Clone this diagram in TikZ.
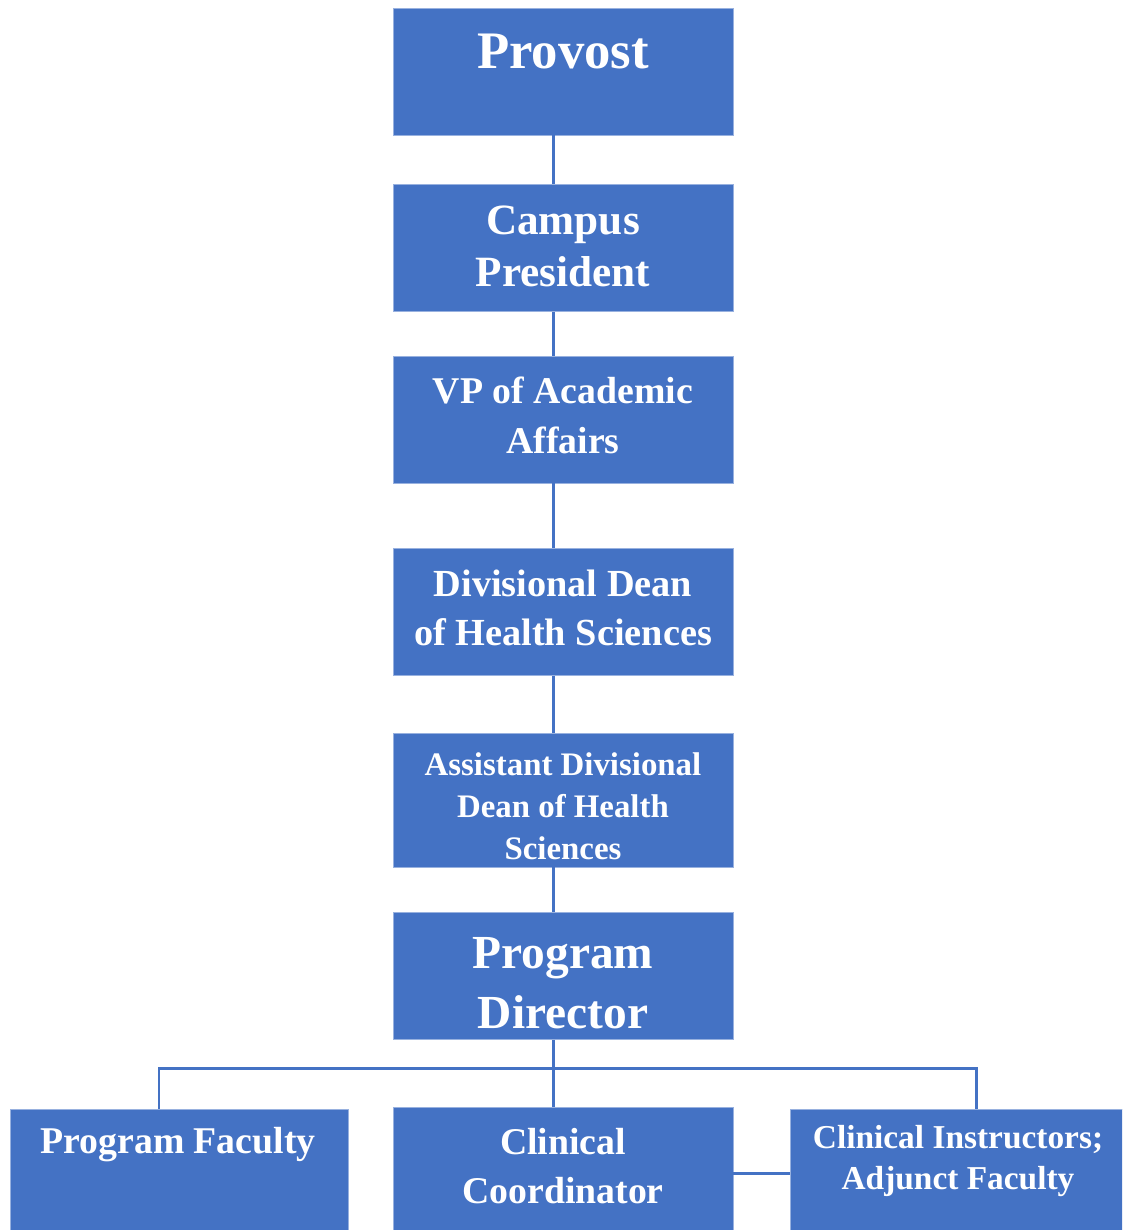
\documentclass[tikz,border=0pt]{standalone}
\usepackage{fontspec}
\setmainfont{Liberation Serif}
\definecolor{orgblue}{HTML}{4472C4}
\begin{document}
\begin{tikzpicture}[x=0.02cm,y=-0.02cm,
  box/.style={rectangle,fill=orgblue,draw=orgblue!55!white,line width=0.4pt,minimum width=6.8cm,minimum height=2.54cm,inner sep=0pt},
  txt/.style 2 args={text=white,font=\bfseries\fontsize{#1}{#2}\selectfont,align=center,inner sep=0pt},
  link/.style={draw=orgblue,line width=1.7pt}]
\useasboundingbox (0,0) rectangle (1122,1230);
\clip (0,0) rectangle (1122,1230);
% boxes of the chain
\node[box] (provost) at (563,71.5) {};
\node[box] (campus) at (563,248) {};
\node[box] (vp) at (563,419.5) {};
\node[box] (dean) at (563,612) {};
\node[box,minimum height=2.68cm] (asst) at (563,800) {};
\node[box] (director) at (563,976) {};
% bottom row
\node[box,minimum width=6.76cm,minimum height=2.64cm] (faculty) at (179,1175) {};
\node[box,minimum height=2.64cm] (coord) at (563,1173) {};
\node[box,minimum height=2.64cm] (instr) at (960,1175) {};
% texts
\node[txt={30}{36}] (provost-t) at (563,52) {Provost};
\node[txt={24.6}{29.5}] (campus-t) at (563,246) {Campus\\President};
\node[txt={21.5}{28.4}] (vp-t) at (563,415) {VP of Academic\\Affairs};
\node[txt={21.8}{27.8}] (dean-t) at (563,607.5) {Divisional Dean\\of Health Sciences};
\node[txt={18.7}{23.8}] (asst-t) at (563,806) {Assistant Divisional\\Dean of Health\\Sciences};
\node[txt={27}{34}] (director-t) at (563,983) {Program\\Director};
\node[txt={21.5}{26}] (faculty-t) at (178,1145) {Program Faculty};
\node[txt={21.5}{27.8}] (coord-t) at (563,1166) {Clinical\\Coordinator};
\node[txt={19}{23.8}] (instr-t) at (958,1161) {Clinical Instructors;\\Adjunct Faculty};
% connectors
\coordinate (spine) at (553,0);
\coordinate (barL) at (159,1068);
\coordinate (barR) at (976,1068);
\draw[link] (provost.south -| spine) -- (campus.north -| spine);
\draw[link] (campus.south -| spine) -- (vp.north -| spine);
\draw[link] (vp.south -| spine) -- (dean.north -| spine);
\draw[link] (dean.south -| spine) -- (asst.north -| spine);
\draw[link] (asst.south -| spine) -- (director.north -| spine);
\draw[link] (director.south -| spine) -- (coord.north -| spine);
\draw[link] (faculty.north -| barL) -- (barL) -- (barR) -- (instr.north -| barR);
\draw[link] (coord.east) -- (instr.west |- coord.east);
\end{tikzpicture}
\end{document}
